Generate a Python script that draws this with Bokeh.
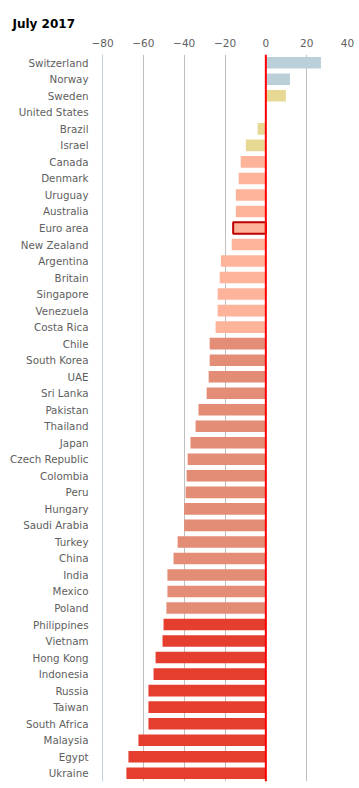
from bokeh.plotting import figure
from bokeh.models import FactorRange, Span, FixedTicker, ColumnDataSource
from bokeh.embed import file_html
from bokeh.resources import INLINE

title = "July 2017"
countries = ["Switzerland", "Norway", "Sweden", "United States", "Brazil", "Israel",
             "Canada", "Denmark", "Uruguay", "Australia", "Euro area", "New Zealand",
             "Argentina", "Britain", "Singapore", "Venezuela", "Costa Rica", "Chile",
             "South Korea", "UAE", "Sri Lanka", "Pakistan", "Thailand", "Japan",
             "Czech Republic", "Colombia", "Peru", "Hungary", "Saudi Arabia", "Turkey",
             "China", "India", "Mexico", "Poland", "Philippines", "Vietnam", "Hong Kong",
             "Indonesia", "Russia", "Taiwan", "South Africa", "Malaysia", "Egypt", "Ukraine"]
values = [27.0, 11.8, 9.8, 0.0, -4.0, -9.8,
          -12.3, -13.3, -14.7, -14.7, -16.0, -16.7,
          -22.0, -22.6, -23.6, -23.6, -24.6, -27.5,
          -27.5, -28.0, -29.0, -33.0, -34.4, -36.9,
          -38.3, -38.8, -39.3, -40.0, -40.0, -43.2,
          -45.2, -48.2, -48.2, -48.7, -50.1, -50.6, -54.0,
          -55.0, -57.5, -57.5, -57.5, -62.4, -67.3, -68.3]
bands = ["over", "over", "slight", "slight", "slight", "slight",
         "under1", "under1", "under1", "under1", "under1", "under1",
         "under1", "under1", "under1", "under1", "under1", "under2",
         "under2", "under2", "under2", "under2", "under2", "under2",
         "under2", "under2", "under2", "under2", "under2", "under2",
         "under2", "under2", "under2", "under2", "under3", "under3", "under3",
         "under3", "under3", "under3", "under3", "under3", "under3", "under3"]
highlight = "Euro area"
tick_values = [-80, -60, -40, -20, 0, 20, 40]
tick_labels = ["\u221280", "\u221260", "\u221240", "\u221220", "0", "20", "40"]

band_colors = {"over": "#bbcfd8", "slight": "#e7d893", "under1": "#fdb49b",
               "under2": "#e38c76", "under3": "#e63e2e"}

FONT = "DejaVu Sans"
LABEL = "#606060"

p = figure(width=359, height=788, output_backend="svg", toolbar_location=None,
           x_range=(-80, 40), y_range=FactorRange(factors=list(reversed(countries))),
           x_axis_location="above", min_border_left=102, min_border_right=12,
           min_border_top=54, min_border_bottom=7, tools="")
p.outline_line_color = None
p.background_fill_color = "white"
p.border_fill_color = "white"

p.title.text = title
p.title.align = "left"
p.title.offset = -90
p.title.text_font = FONT
p.title.text_font_size = "12px"
p.title.text_font_style = "bold"
p.title.text_color = "#000000"

src = ColumnDataSource(dict(y=countries, right=values,
                            color=[band_colors[b] for b in bands],
                            line=[("#c00000" if c == highlight else None) for c in countries],
                            lw=[(2 if c == highlight else 0) for c in countries]))
p.hbar(y="y", left=0, right="right", height=0.7, fill_color="color",
       line_color="line", line_width="lw", source=src)

p.add_layout(Span(location=0, dimension="height", line_color="#ff0000", line_width=2))

xa = p.xaxis[0]
xa.ticker = FixedTicker(ticks=tick_values)
xa.major_label_overrides = {v: l for v, l in zip(tick_values, tick_labels)}
xa.axis_line_color = None
xa.major_tick_line_color = None
xa.minor_tick_line_color = None
xa.major_label_standoff = 2
xa.major_label_text_font = FONT
xa.major_label_text_font_size = "10.5px"
xa.major_label_text_color = LABEL

ya = p.yaxis[0]
ya.axis_line_color = "#c0d0e0"
ya.major_tick_line_color = None
ya.minor_tick_line_color = None
ya.major_label_standoff = 8
ya.major_label_text_font = FONT
ya.major_label_text_font_size = "10.3px"
ya.major_label_text_color = LABEL

p.xgrid.ticker = FixedTicker(ticks=tick_values[1:])
p.xgrid.grid_line_color = "#c0c0c0"
p.ygrid.grid_line_color = None

open("out.html", "w").write(file_html(p, INLINE))
